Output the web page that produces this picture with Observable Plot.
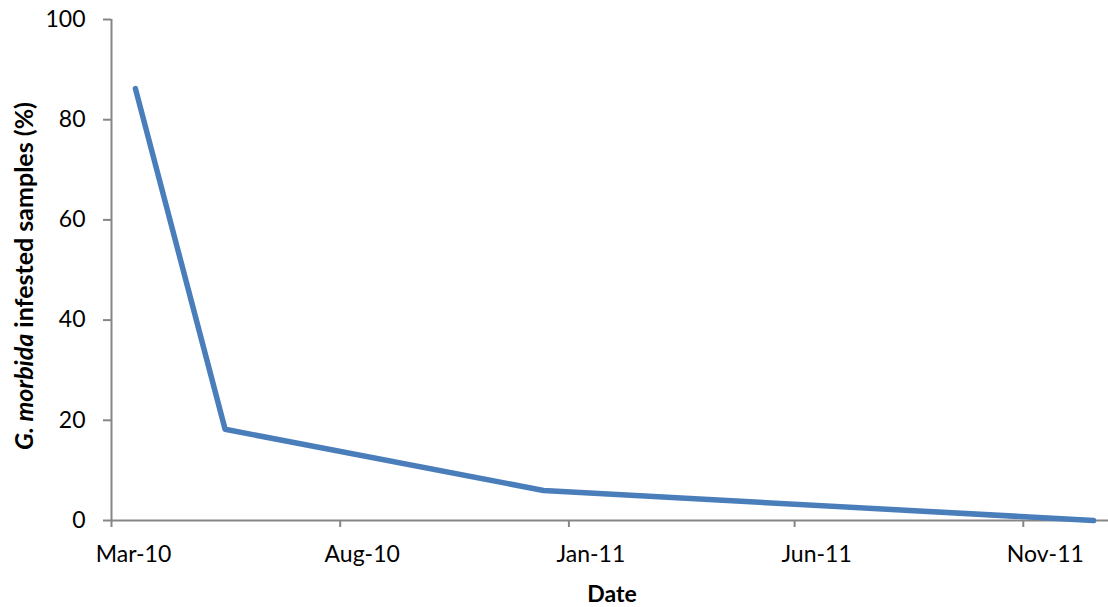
<!DOCTYPE html>
<html>
<head>
<meta charset="utf-8">
<script src="https://cdn.jsdelivr.net/npm/d3@7"></script>
<script src="https://cdn.jsdelivr.net/npm/@observablehq/plot@0.6"></script>
<style>
  html, body { margin: 0; padding: 0; background: #fff; }
  #chart svg { display: block; }
</style>
</head>
<body>
<div id="chart"></div>
<script>
const dates = ["2010-03-17", "2010-05-16", "2010-12-15", "2011-12-18"];
const infested = [86.2, 18.2, 6, 0];
const xTicks = ["2010-03-01", "2010-08-01", "2011-01-01", "2011-06-01", "2011-11-01"];
const yTicks = [0, 20, 40, 60, 80, 100];
const xDomain = ["2010-03-01", "2011-12-28"];

const data = dates.map((d, i) => ({date: new Date(d), value: infested[i]}));
const tickDates = xTicks.map(d => new Date(d));
const axisColor = "#868686";
const FONT = "Lato, 'Open Sans', sans-serif";

const W = 1108, H = 607;
const chart = Plot.plot({
  width: W,
  height: H,
  marginLeft: 111,
  marginRight: 0,
  marginTop: 19,
  marginBottom: 87,
  style: {fontFamily: FONT, fontSize: "23px", color: "#000", background: "#fff"},
  x: {type: "utc", domain: xDomain.map(d => new Date(d))},
  y: {domain: [0, 100]},
  marks: [
    // tick marks at month starts
    Plot.axisX({
      ticks: tickDates, tickSize: 7, text: null, label: null,
      stroke: axisColor, strokeWidth: 2
    }),
    // labels centred on the month (Excel style)
    Plot.axisX({
      ticks: tickDates,
      tickFormat: d3.utcFormat("%b-%y"),
      tickSize: 0, tickPadding: 25, label: null, dx: 22,
      fill: "#000", fontSize: 23
    }),
    Plot.axisY({
      ticks: yTicks, tickSize: 8, tickPadding: 18, label: null,
      stroke: axisColor, strokeWidth: 2, fill: "#000", fontSize: 23
    }),
    Plot.ruleX([new Date(xDomain[0])], {stroke: axisColor, strokeWidth: 2}),
    Plot.ruleY([0], {stroke: axisColor, strokeWidth: 2}),
    Plot.line(data, {x: "date", y: "value", stroke: "#4a7ebb", strokeWidth: 5.5, strokeLinecap: "round", strokeLinejoin: "round"})
  ]
});

const svg = d3.select(chart);
// Y axis title with italic species name
const yt = svg.append("text")
  .attr("transform", "translate(33,276) rotate(-90)")
  .attr("text-anchor", "middle")
  .attr("font-family", FONT)
  .attr("font-size", 25)
  .attr("font-weight", "bold")
  .attr("fill", "#000");
yt.append("tspan").attr("font-style", "italic").text("G. morbida");
yt.append("tspan").text(" infested samples (%)");

svg.append("text")
  .attr("x", 612).attr("y", 602)
  .attr("text-anchor", "middle")
  .attr("font-family", FONT)
  .attr("font-size", 23)
  .attr("font-weight", "bold")
  .attr("fill", "#000")
  .text("Date");

document.getElementById("chart").appendChild(chart);
</script>
</body>
</html>
